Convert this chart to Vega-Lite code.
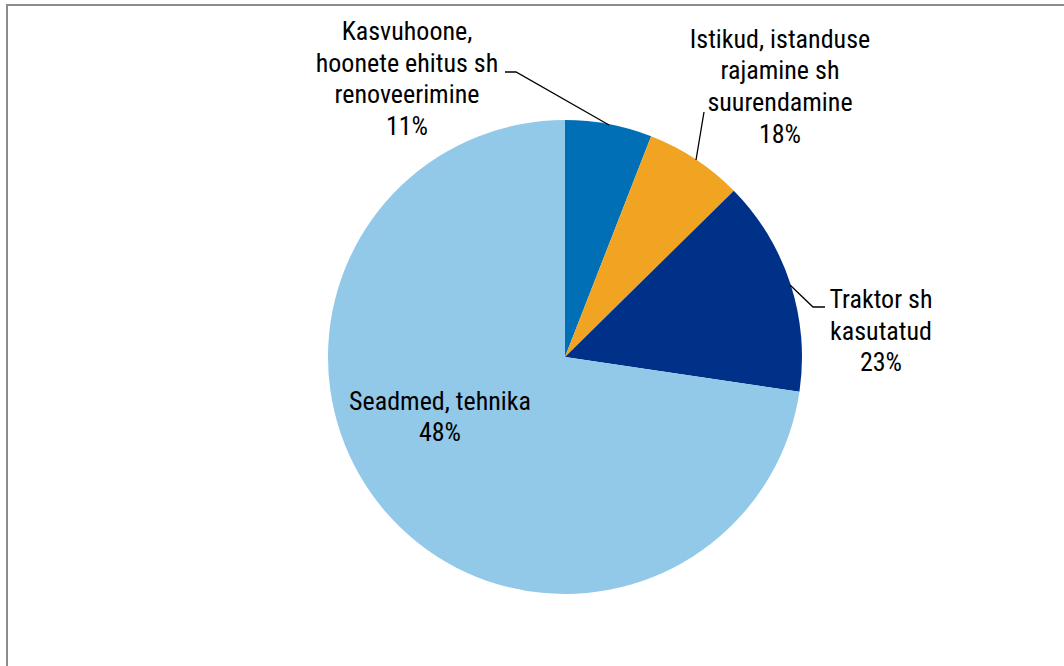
{
  "$schema": "https://vega.github.io/schema/vega-lite/v6.json",
  "autosize": {"type": "none"},
  "padding": {"left": 7, "top": 5, "right": 0, "bottom": 0},
  "width": 1116,
  "height": 704,
  "background": "white",
  "config": {"view": {"stroke": "#8c8c8c", "strokeWidth": 2}},
  "datasets": {
    "slices": [
      {"category": "Kasvuhoone, hoonete ehitus sh renoveerimine", "value": 5.92, "order": 1},
      {"category": "Istikud, istanduse rajamine sh suurendamine", "value": 6.70, "order": 2},
      {"category": "Traktor sh kasutatud", "value": 14.72, "order": 3},
      {"category": "Seadmed, tehnika", "value": 72.66, "order": 4}
    ],
    "labels": [
      {"label": "Kasvuhoone,\nhoonete ehitus sh\nrenoveerimine\n11%", "dx": -158, "dy": -325},
      {"label": "Istikud, istanduse\nrajamine sh\nsuurendamine\n18%", "dx": 215, "dy": -317.5},
      {"label": "Traktor sh\nkasutatud\n23%", "dx": 316, "dy": -57},
      {"label": "Seadmed, tehnika\n48%", "dx": -125, "dy": 44.5}
    ],
    "leaders": [
      {"grp": "A", "seq": 1, "dx": -60, "dy": -285},
      {"grp": "A", "seq": 2, "dx": -49, "dy": -285},
      {"grp": "A", "seq": 3, "dx": 44, "dy": -232},
      {"grp": "B", "seq": 1, "dx": 139, "dy": -245},
      {"grp": "B", "seq": 2, "dx": 131, "dy": -197},
      {"grp": "C", "seq": 1, "dx": 260, "dy": -50},
      {"grp": "C", "seq": 2, "dx": 248, "dy": -50},
      {"grp": "C", "seq": 3, "dx": 225, "dy": -72}
    ]
  },
  "layer": [
    {
      "data": {"name": "slices"},
      "mark": {"type": "arc", "radius": 237, "stroke": null},
      "encoding": {
        "theta": {"field": "value", "type": "quantitative", "stack": true},
        "order": {"field": "order", "type": "quantitative"},
        "color": {
          "field": "category",
          "type": "nominal",
          "legend": null,
          "scale": {
            "domain": ["Kasvuhoone, hoonete ehitus sh renoveerimine", "Istikud, istanduse rajamine sh suurendamine", "Traktor sh kasutatud", "Seadmed, tehnika"],
            "range": ["#006fb5", "#f1a322", "#003189", "#92c8e8"]
          }
        }
      }
    },
    {
      "data": {"name": "leaders"},
      "mark": {"type": "line", "color": "#000000", "strokeWidth": 1.3},
      "encoding": {
        "x": {"field": "dx", "type": "quantitative", "axis": null, "scale": {"domain": [-558, 558], "nice": false, "zero": false}},
        "y": {"field": "dy", "type": "quantitative", "axis": null, "scale": {"domain": [-352, 352], "nice": false, "zero": false, "reverse": true}},
        "detail": {"field": "grp", "type": "nominal"},
        "order": {"field": "seq", "type": "quantitative"}
      }
    },
    {
      "data": {"name": "labels"},
      "mark": {"type": "text", "font": "Roboto Condensed, Roboto", "fontSize": 26, "lineBreak": "\n", "lineHeight": 31.7, "align": "center", "baseline": "middle", "color": "#000000"},
      "encoding": {
        "x": {"field": "dx", "type": "quantitative", "axis": null, "scale": {"domain": [-558, 558], "nice": false, "zero": false}},
        "y": {"field": "dy", "type": "quantitative", "axis": null, "scale": {"domain": [-352, 352], "nice": false, "zero": false, "reverse": true}},
        "text": {"field": "label", "type": "nominal"}
      }
    }
  ]
}
